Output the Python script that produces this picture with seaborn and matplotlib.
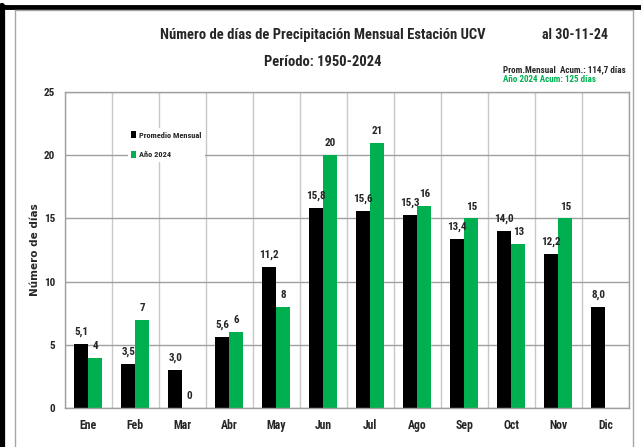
import numpy as np
import pandas as pd
import seaborn as sns
import matplotlib.pyplot as plt
from matplotlib.lines import Line2D

meses = ["Ene", "Feb", "Mar", "Abr", "May", "Jun", "Jul", "Ago", "Sep", "Oct", "Nov", "Dic"]
promedio = [5.1, 3.5, 3.0, 5.6, 11.2, 15.8, 15.6, 15.3, 13.4, 14.0, 12.2, 8.0]
anio_2024 = [4, 7, 0, 6, 8, 20, 21, 16, 15, 13, 15, np.nan]
series = ["Promedio Mensual", "Año 2024"]
colores = {"Promedio Mensual": "black", "Año 2024": "#00B050"}

df = pd.DataFrame({
    "Mes": meses * 2,
    "Serie": [series[0]] * 12 + [series[1]] * 12,
    "Dias": promedio + anio_2024,
})

sns.set_style("white")
plt.rcParams["font.family"] = ["Roboto Condensed", "DejaVu Sans"]
plt.rcParams["font.weight"] = "bold"

fig = plt.figure(figsize=(6.41, 4.47), dpi=100)
ax = fig.add_axes([0.101, 0.087, 0.880, 0.707])

sns.barplot(data=df, x="Mes", y="Dias", hue="Serie", hue_order=series,
            palette=colores, width=0.6, gap=0, linewidth=0, saturation=1, ax=ax)

# etiquetas de valores
etiquetas = [
    [f"{v:.1f}".replace(".", ",") for v in promedio],
    ["" if np.isnan(v) else f"{int(v)}" for v in anio_2024],
]
for cont, labs in zip(ax.containers, etiquetas):
    for bar, lab in zip(cont, labs):
        if bar is None or lab == "":
            continue
        ax.annotate(lab, (bar.get_x() + bar.get_width() / 2, bar.get_height()),
                    xytext=(0, 5), textcoords="offset points", ha="center", va="bottom",
                    fontsize=8, fontweight="bold")

ax.set_ylim(0, 25)
ax.set_xlim(-0.5, 11.5)
ax.set_yticks([0, 5, 10, 15, 20, 25])
ax.set_xticks(range(12))
ax.set_xticklabels(meses, fontsize=8.5, fontweight="bold")
ax.set_yticklabels(["0", "5", "10", "15", "20", "25"], fontsize=8, fontweight="bold")
ax.set_xticks(np.arange(-0.5, 12, 1), minor=True)
ax.tick_params(axis="y", which="both", length=0, pad=7)
ax.tick_params(axis="x", which="both", length=0, pad=8)
ax.grid(axis="y", which="major", color="#a0a0a0", linewidth=1)
ax.grid(axis="x", which="minor", color="#c8c8c8", linewidth=1)
ax.grid(axis="x", which="major", visible=False)
ax.set_axisbelow(True)
for s in ax.spines.values():
    s.set_color("#a0a0a0")
    s.set_linewidth(1)

ax.set_xlabel("")
ax.set_ylabel("Número de días", fontsize=7.5, fontweight="bold", labelpad=3,
              family="DejaVu Sans")

leg = ax.legend(loc="upper left", bbox_to_anchor=(0.105, 0.9), fontsize=6,
                frameon=True, facecolor="white", edgecolor="white", framealpha=1,
                handlelength=0.6, handleheight=0.9, handletextpad=0.3,
                labelspacing=1.5, borderpad=0.4)
leg.get_frame().set_linewidth(0)

# titulos
fig.text(0.503, 0.922, "Número de días de Precipitación Mensual Estación UCV",
         ha="center", va="center", fontsize=10.5, fontweight="bold")
fig.text(0.503, 0.861, "Período: 1950-2024", ha="center", va="center",
         fontsize=10.5, fontweight="bold")
fig.text(0.897, 0.922, "al 30-11-24", ha="center", va="center", fontsize=10, fontweight="bold")
fig.text(0.785, 0.845, "Prom.Mensual  Acum.: 114,7 días", ha="left", va="center",
         fontsize=6.5, fontweight="bold")
fig.text(0.785, 0.822, "Año 2024 Acum: 125 días", ha="left", va="center",
         fontsize=6.5, fontweight="bold", color="#00B050")

# marco
fig.add_artist(Line2D([0, 1], [0.984, 0.984], color="black", linewidth=3.5, transform=fig.transFigure))
fig.add_artist(Line2D([0.003, 0.003], [0, 0.986], color="black", linewidth=4.5, transform=fig.transFigure))
fig.add_artist(Line2D([0.023, 0.023], [0, 0.977], color="#a6a6a6", linewidth=1, transform=fig.transFigure))
fig.add_artist(Line2D([0.988, 0.988], [0, 0.977], color="#a6a6a6", linewidth=1, transform=fig.transFigure))
fig.add_artist(Line2D([0.023, 0.988], [0.977, 0.977], color="#a6a6a6", linewidth=1, transform=fig.transFigure))

fig.savefig("out.png", dpi=100)
